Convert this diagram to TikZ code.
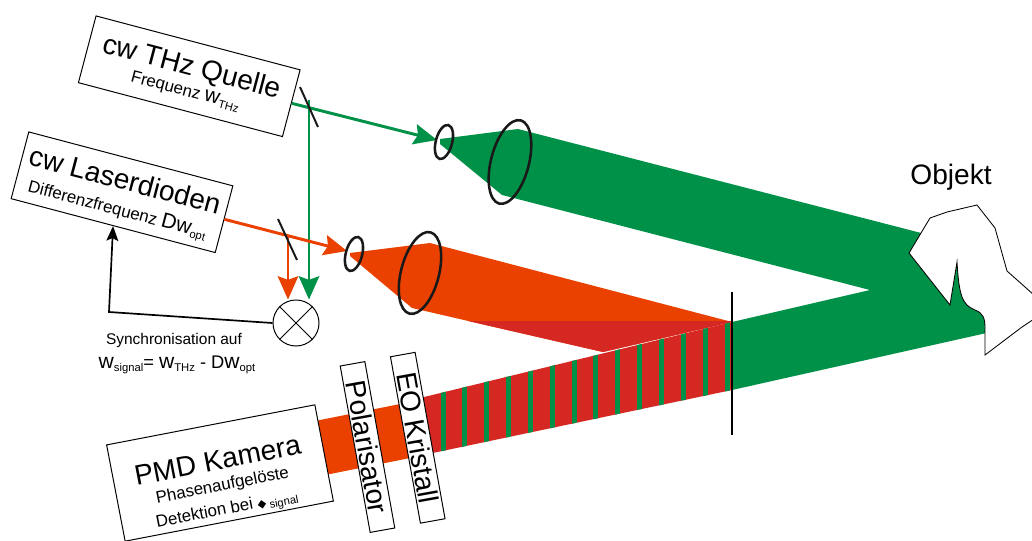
\documentclass[tikz,border=0pt]{standalone}
\usepackage{fontspec}
\setmainfont{Liberation Sans}
\newfontfamily\diamondfont{DejaVu Sans}
\usepackage{xcolor}
\usepackage{tikz}
\usetikzlibrary{calc, arrows.meta}

\definecolor{thzgreen}{RGB}{0,145,72}
\definecolor{laserred}{RGB}{234,64,0}
\definecolor{mixred}{RGB}{214,40,34}

\newcommand{\subtxt}[1]{\raisebox{-2pt}{\fontsize{8}{8}\selectfont #1}}
\newcommand{\bigw}{{\fontsize{15}{15}\selectfont w}}

\tikzset{
	box/.style = {draw, fill = white, line width = 0.7pt, inner sep = 0pt},
	beamline/.style = {line width = 2.1pt, -{Stealth[length = 16.5pt, width = 14.5pt, inset = 2.5pt]}},
	mirror/.style = {line width = 1.4pt, black!90},
	lens/.style = {line width = 1.8pt, black!90},
	bigfont/.style = {font = \fontsize{20}{20}\selectfont},
	smallfont/.style = {font = \fontsize{12}{12}\selectfont},
}

\begin{document}
\begin{tikzpicture}[x = 0.025cm, y = -0.025cm]
			\useasboundingbox (0,0) rectangle (1032,540);
			
			\coordinate (thzlens1) at (444,142);
			\coordinate (thzlens2) at (510,162);
			\coordinate (laserlens1) at (354,254);
			\coordinate (laserlens2) at (420,273);
			\coordinate (thztip) at (437,140);
			\coordinate (lasertip) at (347,251);
			\coordinate (thzsplit) at (309,100);
			\coordinate (lasersplit) at (288,236);
			\coordinate (syncbend) at (109,312);
			
			% beams
			\fill [thzgreen] (440,139) -- (518,129) -- (960,243) -- (1000,330) -- (732,390) -- (732,322) -- (870,290) -- (502,195) -- (440,144) -- cycle;
			\fill [laserred] (350,253) -- (430,243) -- (732,322) -- (603,352) -- (412,308) -- (350,256) -- cycle;
			\fill [mixred] (468,321) -- (732,321) -- (732,322) -- (603,352) -- cycle;
			\fill [mixred] (732,322) -- (420,398) -- (428,454) -- (732,390) -- cycle;
			\begin{scope}
				\clip (732,322) -- (420,398) -- (428,454) -- (732,390) -- cycle;
				\foreach \i in {0,...,13}
					\fill [thzgreen] ({440.5 + 21.85*\i}, 300) rectangle ++(5, 170);
			\end{scope}
			\fill [laserred] (305,423) -- (415,401) -- (415,457) -- (305,479) -- cycle;
			
			\draw [line width = 1pt] (732,292) -- (732,435);
			
			% object
			\draw [fill = white, line width = 0.6pt] (909,253) -- (950,305) -- (957,262) .. controls (959,295) and (962,305) .. (975,310) .. controls (983,313) and (985,318) .. (985,328) -- (985,355) -- (1022,327) -- (1034,319) -- (1034,295) -- (1007,271) -- (995,228) -- (977,205) -- (947,212) -- (930,218) -- cycle;
			\node [bigfont] (objlabel) at (951,177) {Objekt};
			
			% sources and detector
			\node [box, rotate = -14.8, minimum width = 5.275cm, minimum height = 1.725cm] (thz) at (189.25,76.25) {};
			\node [bigfont, rotate = -14.8] (thztitle) at ($(thz.north)!0.38!(thz.south)$) {cw THz Quelle};
			\node [smallfont, rotate = -14.8] (thzfreq) at ($(thz.north)!0.73!(thz.south)$) {Frequenz \bigw\subtxt{THz}};
			
			\node [box, rotate = -14.8, minimum width = 5.275cm, minimum height = 1.725cm] (laser) at (122,192.25) {};
			\node [bigfont, rotate = -14.8] (lasertitle) at ($(laser.north)!0.32!(laser.south)$) {cw Laserdioden};
			\node [smallfont, rotate = -14.8] (laserfreq) at ($(laser.north)!0.77!(laser.south)$) {Differenzfrequenz {\fontsize{15}{15}\selectfont D}\bigw\subtxt{opt}};
			
			\node [box, rotate = 10.9, minimum width = 5.3cm, minimum height = 2.45cm] (pmd) at (220,473) {};
			\node [bigfont, rotate = 10.9] (pmdtitle) at ($(pmd.north)!0.37!(pmd.south)$) {PMD Kamera};
			\node [smallfont, rotate = 10.9] (pmdline1) at ($(pmd.north)!0.635!(pmd.south)$) {Phasenaufgelöste};
			\node [smallfont, rotate = 10.9] (pmdline2) at ($(pmd.north)!0.885!(pmd.south)$) {Detektion bei {\diamondfont\fontsize{8}{8}\selectfont ◆}\,\subtxt{signal}};
			
			\node [box, bigfont, rotate = -79.8, minimum width = 4.225cm, minimum height = 0.625cm] (pol) at (367.5,447) {Polarisator};
			\node [box, bigfont, rotate = -79.8, minimum width = 4.225cm, minimum height = 0.625cm] (eo) at (417.75,437.75) {EO Kristall};
			
			% mixer
			\node [draw, circle, fill = white, line width = 0.7pt, minimum size = 1.15cm, inner sep = 0pt] (mix) at (296,323) {};
			\draw [line width = 0.7pt] (mix.north west) -- (mix.south east) (mix.north east) -- (mix.south west);
			
			\draw [beamline, thzgreen] (thz.east) -- (thztip);
			\draw [beamline, thzgreen] (thzsplit) -- (thzsplit |- mix.north);
			\draw [beamline, laserred] (laser.east) -- (lasertip);
			\draw [beamline, laserred] (lasersplit) -- (lasersplit |- mix.north);
			
			\draw [mirror] (300,87) -- (318,127);
			\draw [mirror] (278,219) -- (297,260);
			
			\draw [lens, rotate around = {-14.5:(thzlens1)}] (thzlens1) ellipse [x radius = 8.2, y radius = 17.5];
			\draw [lens, rotate around = {-14.5:(thzlens2)}] (thzlens2) ellipse [x radius = 19, y radius = 43];
			\draw [lens, rotate around = {-14.5:(laserlens1)}] (laserlens1) ellipse [x radius = 8.2, y radius = 17.5];
			\draw [lens, rotate around = {-14.5:(laserlens2)}] (laserlens2) ellipse [x radius = 19, y radius = 42];
			
			\draw [line width = 1.2pt, -{Stealth[length = 10.5pt, width = 8.5pt, inset = 2pt]}] (mix.west) -- (syncbend) -- (laser.south);
			\node [font = \fontsize{11}{11}\selectfont] (sync) at (174,340) {Synchronisation auf};
			\node [font = \fontsize{13}{13}\selectfont] (omega) at (177,365) {\bigw\subtxt{signal}= \bigw\subtxt{THz} - D\bigw\subtxt{opt}};
			
		\end{tikzpicture}
\end{document}
